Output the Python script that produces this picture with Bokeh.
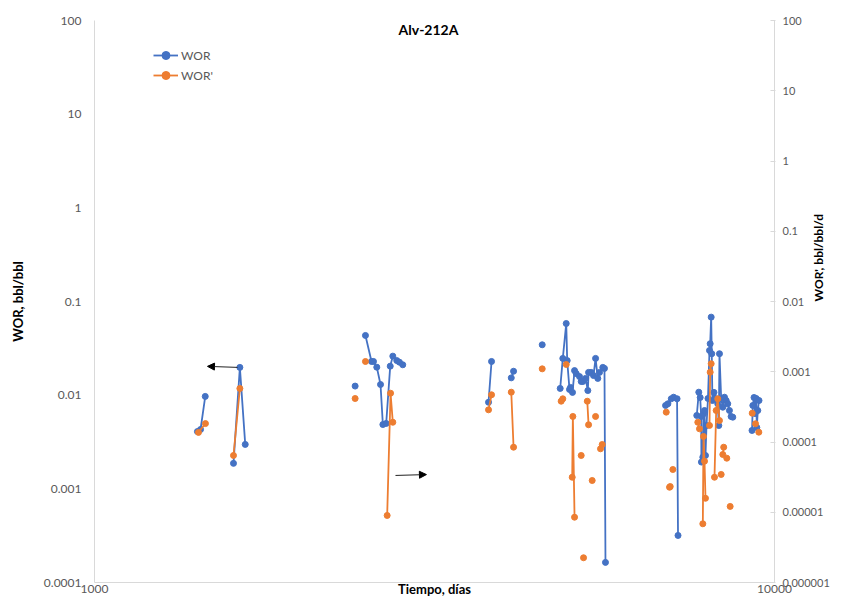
import math
from bokeh.plotting import figure
from bokeh.models import (Range1d, LogScale, LogAxis, FixedTicker, NumeralTickFormatter,
                          Label, Arrow, NormalHead, Legend, LegendItem)
from bokeh.embed import file_html
from bokeh.resources import INLINE

NaN = float("nan")  # gap marker: breaks the line like an empty cell

# ---- WOR (left axis) ----
wor_days = [
    1417, 1432, 1455, NaN,
    1601, 1636, 1666, NaN,
    2417, NaN,
    2503, 2555, 2572, 2601, 2634, 2655, 2685, 2722, 2746, 2783, 2808, 2840, NaN,
    3797, 3836, NaN,
    4101, 4133, NaN,
    4554, NaN,
    4840, 4883, 4940, 4956, 4995, 5012, 5046, 5081, 5110, 5167, 5197, 5226,
    5274, 5315, 5328, 5376, 5418, 5456, 5497, 5529, 5591, 5623, 5642, NaN,
    6915, 6970, 7050, 7106, 7190, 7213, NaN,
    7686, 7739, 7775, 7802, 7808, 7845, 7863, 7890, 7916, 7943, 7983, 8024, 8043, 8070, 8086,
    8104, 8147, 8208, 8252, 8281, 8300, 8348, 8394, 8442, 8491, 8536, 8585, 8634, 8683, NaN,
    9267, 9292, 9330, 9362, 9399, 9419, 9450, 9489,
]
wor_values = [
    0.00409, 0.00430, 0.0097, NaN,
    0.00187, 0.0198, 0.00298, NaN,
    0.0125, NaN,
    0.0434, 0.0229, 0.0229, 0.0199, 0.0130, 0.00486, 0.00499, 0.0204, 0.0261, 0.0234, 0.0225, 0.0211, NaN,
    0.0084, 0.0229, NaN,
    0.0153, 0.0180, NaN,
    0.0345, NaN,
    0.0118, 0.0247, 0.0582, 0.0234, 0.0115, 0.0121, 0.0107, 0.0183, 0.0170, 0.0158, 0.0140, 0.0140,
    0.0151, 0.0112, 0.0175, 0.0175, 0.0162, 0.0247, 0.0151, 0.0175, 0.0198, 0.0193, 0.000164, NaN,
    0.00776, 0.00809, 0.00915, 0.00951, 0.00915, 0.000318, NaN,
    0.00607, 0.01076, 0.00944, 0.00592, 0.00193, 0.00218, 0.00632, 0.00686, 0.00227, 0.00474, 0.00922, 0.0300, 0.0354, 0.0681, 0.0277,
    0.00877, 0.0107, 0.00915, 0.00809, 0.00474, 0.0277, 0.00915, 0.00744, 0.00951, 0.00877, 0.00809, 0.00686, 0.00592, 0.00582, NaN,
    0.0042, 0.00776, 0.00944, 0.00637, 0.00922, 0.00452, 0.00686, 0.00877,
]

# ---- WOR' (right axis) ----
worp_days = [
    1422, 1456, NaN,
    1601, 1636, NaN,
    2417, NaN, 2503, NaN, 2694, 2725, 2746, NaN,
    3797, 3836, NaN, 4101, 4133, NaN,
    4554, NaN, 4856, 4883, NaN, 4940, NaN, 5041, 5052, 5081, NaN, 5197, NaN, 5238, NaN,
    5305, 5328, NaN, 5394, NaN, 5456, NaN, 5548, 5580, NaN,
    6931, NaN, 7009, 7025, NaN, 7088, NaN,
    7713, 7757, NaN, 7845, 7863, 7890, 7916, NaN, 8024, 8043, 8070, NaN,
    8161, 8208, 8252, 8300, NaN, 8348, NaN, 8394, 8420, NaN, 8508, NaN, 8606, NaN,
    9273, NaN, 9378, NaN, 9483,
]
worp_values = [
    0.000137, 0.000183, NaN,
    0.0000643, 0.000578, NaN,
    0.000416, NaN, 0.00140, NaN, 0.0000090, 0.000495, 0.000191, NaN,
    0.000287, 0.000470, NaN, 0.000512, 0.0000843, NaN,
    0.00110, NaN, 0.000381, 0.000412, NaN, 0.00127, NaN, 0.0000315, 0.000231, 0.0000085, NaN, 0.0000643, NaN, 0.00000225, NaN,
    0.000381, 0.000176, NaN, 0.0000283, NaN, 0.000231, NaN, 0.0000800, 0.0000921, NaN,
    0.000266, NaN, 0.0000227, 0.0000232, NaN, 0.0000406, NaN,
    0.000191, 0.000154, NaN, 0.00000685, 0.000120, 0.0000533, 0.0000158, NaN, 0.000172, 0.000986, 0.00130, NaN,
    0.0000315, 0.000281, 0.000412, 0.000202, NaN, 0.0000345, NaN, 0.0000664, 0.0000843, NaN, 0.0000588, NaN, 0.0000121, NaN,
    0.000257, NaN, 0.000182, NaN, 0.000138,
]

x_ticks = [1000, 10000]
left_ticks = [0.0001, 0.001, 0.01, 0.1, 1, 10, 100]
right_ticks = [0.000001, 0.00001, 0.0001, 0.001, 0.01, 0.1, 1, 10, 100]

# annotation arrows (data coordinates on the left axis)
arrow_x_start = [1623, 2771]
arrow_x_end = [1466, 3077]
arrow_y_start = [0.0198, 0.00139]
arrow_y_end = [0.0203, 0.00142]

BLUE = "#4472C4"
ORANGE = "#ED7D31"
AXIS_GRAY = "#D9D9D9"
TEXT_GRAY = "#595959"
FONT = "Lato"

p = figure(width=836, height=599, x_axis_type="log", y_axis_type="log",
           x_range=Range1d(1000, 10000), y_range=Range1d(0.0001, 100),
           output_backend="svg", toolbar_location=None,
           min_border_left=94, min_border_right=40, min_border_top=20, min_border_bottom=17)
p.extra_y_ranges = {"right": Range1d(0.000001, 100)}
p.extra_y_scales = {"right": LogScale()}

p.xgrid.visible = False
p.ygrid.visible = False
p.outline_line_color = None
p.background_fill_color = "white"
p.border_fill_color = "white"

fmt = "0.[000000]"

xa = p.xaxis[0]
xa.ticker = FixedTicker(ticks=x_ticks)
xa.formatter = NumeralTickFormatter(format="0")
xa.axis_line_color = AXIS_GRAY
xa.major_tick_line_color = None
xa.major_tick_in = 0
xa.major_tick_out = 0
xa.minor_tick_line_color = None
xa.minor_tick_in = 0
xa.minor_tick_out = 0
xa.major_label_text_font = FONT
xa.major_label_text_font_size = "12px"
xa.major_label_text_color = TEXT_GRAY
xa.major_label_standoff = 2
xa.axis_label = "Tiempo, días"
xa.axis_label_text_font = FONT
xa.axis_label_text_font_style = "bold"
xa.axis_label_text_font_size = "13px"
xa.axis_label_text_color = "black"
xa.axis_label_standoff = -15

ya = p.yaxis[0]
ya.ticker = FixedTicker(ticks=left_ticks)
ya.formatter = NumeralTickFormatter(format=fmt)
ya.axis_line_color = AXIS_GRAY
ya.major_tick_line_color = None
ya.major_tick_in = 0
ya.major_tick_out = 0
ya.minor_tick_line_color = None
ya.minor_tick_in = 0
ya.minor_tick_out = 0
ya.major_label_text_font = FONT
ya.major_label_text_font_size = "12px"
ya.major_label_text_color = TEXT_GRAY
ya.major_label_standoff = 13
ya.axis_label = "WOR, bbl/bbl"
ya.axis_label_text_font = FONT
ya.axis_label_text_font_style = "bold"
ya.axis_label_text_font_size = "13px"
ya.axis_label_text_color = "black"
ya.axis_label_standoff = 15

ra = LogAxis(y_range_name="right", ticker=FixedTicker(ticks=right_ticks),
             formatter=NumeralTickFormatter(format=fmt))
ra.axis_line_color = AXIS_GRAY
ra.major_tick_line_color = AXIS_GRAY
ra.major_tick_in = 4
ra.major_tick_out = 1
ra.minor_tick_line_color = None
ra.minor_tick_in = 0
ra.minor_tick_out = 0
ra.major_label_text_font = FONT
ra.major_label_text_font_size = "11px"
ra.major_label_text_color = TEXT_GRAY
ra.major_label_standoff = 7
ra.axis_label = "WOR', bbl/bbl/d"
ra.axis_label_text_font = FONT
ra.axis_label_text_font_style = "bold"
ra.axis_label_text_font_size = "12px"
ra.axis_label_text_color = "black"
ra.axis_label_text_baseline = "middle"
ra.axis_label_standoff = -14
try:
    ra.axis_label_orientation = math.pi / 2
except Exception:
    pass
p.add_layout(ra, "right")

l1 = p.line(wor_days, wor_values, line_color=BLUE, line_width=1.8)
s1 = p.scatter(wor_days, wor_values, size=6, fill_color=BLUE, line_color=BLUE)
l2 = p.line(worp_days, worp_values, line_color=ORANGE, line_width=1.8, y_range_name="right")
s2 = p.scatter(worp_days, worp_values, size=6, fill_color=ORANGE, line_color=ORANGE,
               y_range_name="right")

for xs, xe, ys, ye in zip(arrow_x_start, arrow_x_end, arrow_y_start, arrow_y_end):
    p.add_layout(Arrow(end=NormalHead(size=7, fill_color="black", line_color="black"),
                       x_start=xs, y_start=ys, x_end=xe, y_end=ye,
                       line_color="#222222", line_width=1))

legend = Legend(items=[LegendItem(label="WOR", renderers=[l1, s1]),
                       LegendItem(label="WOR'", renderers=[l2, s2])],
                location=(59, 497), orientation="vertical",
                background_fill_alpha=0, border_line_color=None,
                padding=0, margin=0, spacing=0,
                glyph_width=25, glyph_height=20, label_height=20, label_standoff=3,
                label_text_font=FONT, label_text_font_size="12px", label_text_color=TEXT_GRAY)
p.add_layout(legend)

p.add_layout(Label(x=334, y=553, x_units="screen", y_units="screen", text="Alv-212A",
                   text_font=FONT, text_font_style="bold", text_font_size="14px",
                   text_align="center", text_baseline="middle", text_color="black"))

open("out.html", "w").write(file_html(p, INLINE))
